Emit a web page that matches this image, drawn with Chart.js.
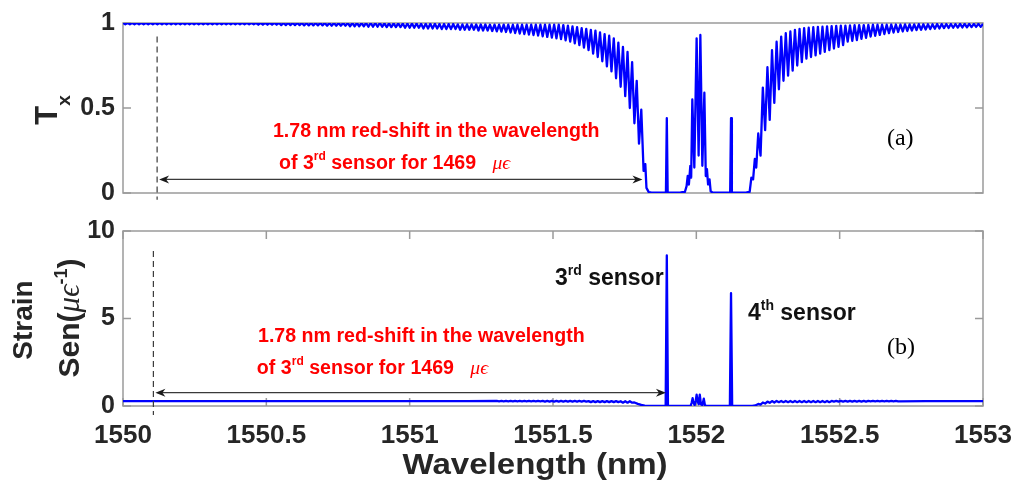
<!DOCTYPE html>
<html>
<head>
<meta charset="utf-8">
<script src="https://cdn.jsdelivr.net/npm/chart.js@4.4.1/dist/chart.umd.min.js"></script>
<style>
body{margin:0;background:#fff;}
#wrap{position:relative;width:1016px;height:485px;}
#wrap canvas{position:absolute;left:0;top:0;}
</style>
</head>
<body>
<div id="wrap">
<canvas id="txChart" width="1016" height="485"></canvas>
<canvas id="senChart" width="1016" height="485"></canvas>
</div>
<script>
const SANS = "'Liberation Sans', Arial, sans-serif";
const SERIF = "'Liberation Serif', 'Times New Roman', serif";
const INK = '#262626';
const BOX = '#9a9a9a';

// axis ticks
const xTicks = [1550, 1550.5, 1551, 1551.5, 1552, 1552.5, 1553];
const txTicks = [0, 0.5, 1];
const senTicks = [0, 5, 10];

// transmission, blue side of the stop band (fringe peaks / troughs)
const txLeftWl = [
1550,1550.008,1550.016,1550.024,1550.032,1550.04,1550.048,1550.056,1550.064,1550.072,1550.08,1550.088,1550.096,1550.104,1550.112,1550.12,1550.128,1550.136,1550.144,1550.152,1550.16,1550.168,1550.176,1550.184,1550.192,
1550.2,1550.208,1550.216,1550.224,1550.232,1550.24,1550.248,1550.256,1550.264,1550.272,1550.28,1550.288,1550.296,1550.304,1550.312,1550.32,1550.328,1550.336,1550.344,1550.352,1550.36,1550.368,1550.376,1550.384,1550.392,
1550.4,1550.408,1550.416,1550.424,1550.432,1550.44,1550.448,1550.456,1550.464,1550.472,1550.48,1550.488,1550.496,1550.504,1550.512,1550.52,1550.528,1550.536,1550.544,1550.552,1550.56,1550.568,1550.576,1550.584,1550.592,
1550.6,1550.608,1550.616,1550.624,1550.632,1550.64,1550.648,1550.656,1550.664,1550.672,1550.68,1550.688,1550.696,1550.704,1550.712,1550.72,1550.728,1550.736,1550.744,1550.752,1550.76,1550.768,1550.776,1550.784,1550.792,
1550.8,1550.808,1550.816,1550.824,1550.832,1550.84,1550.848,1550.856,1550.864,1550.872,1550.88,1550.888,1550.896,1550.904,1550.912,1550.92,1550.928,1550.936,1550.944,1550.952,1550.96,1550.968,1550.976,1550.984,1550.992,
1551,1551.008,1551.016,1551.024,1551.032,1551.04,1551.048,1551.056,1551.064,1551.072,1551.08,1551.088,1551.096,1551.104,1551.112,1551.12,1551.128,1551.136,1551.144,1551.152,1551.16,1551.168,1551.176,1551.184,1551.192,
1551.2,1551.208,1551.216,1551.224,1551.232,1551.24,1551.248,1551.256,1551.264,1551.272,1551.28,1551.288,1551.296,1551.304,1551.312,1551.32,1551.328,1551.336,1551.344,1551.352,1551.36,1551.368,1551.376,1551.384,1551.392,
1551.4,1551.408,1551.416,1551.424,1551.432,1551.44,1551.448,1551.456,1551.464,1551.472,1551.48,1551.488,1551.496,1551.504,1551.512,1551.52,1551.528,1551.536,1551.544,1551.552,1551.56,1551.568,1551.576,1551.584,1551.592,
1551.6,1551.608,1551.616,1551.624,1551.632,1551.64,1551.648,1551.656,1551.664,1551.672,1551.68,1551.688,1551.696,1551.704,1551.712,1551.72,1551.728,1551.736,1551.744,1551.752,1551.76,1551.768,1551.776,1551.784,1551.792,
1551.8,1551.808,1551.816,1551.822,1551.826,1551.834
];
const txLeft = [
1,.992,1,.992,1,.992,1,.992,1,.992,1,.992,1,.992,1,.992,1,.992,1,.992,1,.992,1,.992,1,
.992,1,.992,1,.992,1,.992,1,.992,1,.992,1,.992,1,.992,1,.992,1,.992,1,.992,1,.992,1,.992,
1,.992,1,.992,1,.992,1,.992,1,.99,1,.99,1,.99,1,.99,1,.99,1,.988,1,.988,1,.988,1,
.988,1,.988,1,.986,1,.986,1,.986,1,.986,1,.986,1,.984,1,.984,1,.984,1,.984,1,.984,1,.981,
1,.981,1,.981,1,.981,1,.978,1,.978,1,.978,1,.978,.998,.976,.998,.976,.998,.976,.998,.976,.997,.972,.997,
.972,.997,.972,.997,.972,.995,.968,.995,.968,.995,.968,.995,.968,.994,.964,.994,.964,.994,.964,.994,.964,.992,.96,.992,.96,
.992,.96,.992,.96,.991,.956,.991,.956,.991,.956,.99,.953,.99,.951,.99,.949,.99,.947,.99,.944,.99,.941,.99,.938,.99,
.935,.99,.932,.99,.929,.99,.926,.99,.922,.99,.918,.99,.914,.99,.91,.99,.905,.988,.898,.984,.89,.98,.88,.975,.87,
.97,.855,.965,.84,.96,.82,.955,.8,.945,.775,.935,.745,.925,.715,.91,.675,.885,.625,.86,.57,.83,.5,.77,.41,.66,
.29,.49,.13,.17,.03,.005
];

// transmission inside the stop band: sensor 3 peak, central cluster, sensor 4 peak
const txDipWl = [
1551.842,1551.86,1551.88,1551.894,1551.897,1551.9,1551.92,1551.945,1551.96,1551.966,1551.97,1551.974,1551.979,
1551.982,1551.986,1551.993,1552.001,1552.008,1552.014,1552.021,1552.028,1552.033,1552.037,1552.041,1552.046,
1552.05,1552.056,1552.08,1552.1,1552.118,1552.121,1552.124,1552.15,1552.175,1552.186,1552.192,1552.198,1552.204,1552.209
];
const txDip = [
.003,.002,.002,.003,.44,.003,.002,.003,.006,.04,.1,.05,.16,
.09,.55,.15,.91,.22,.93,.16,.59,.1,.14,.05,.08,
.01,.003,.002,.002,.003,.44,.003,.002,.003,.006,.09,.08,.2,.15
];

// transmission, red side of the stop band
const txRightWl = [
1552.216,1552.224,1552.232,1552.24,1552.248,1552.256,1552.264,1552.272,1552.28,1552.288,1552.296,1552.304,1552.312,1552.32,1552.328,1552.336,1552.344,1552.352,1552.36,1552.368,1552.376,1552.384,1552.392,
1552.4,1552.408,1552.416,1552.424,1552.432,1552.44,1552.448,1552.456,1552.464,1552.472,1552.48,1552.488,1552.496,1552.504,1552.512,1552.52,1552.528,1552.536,1552.544,1552.552,1552.56,1552.568,1552.576,1552.584,1552.592,
1552.6,1552.608,1552.616,1552.624,1552.632,1552.64,1552.648,1552.656,1552.664,1552.672,1552.68,1552.688,1552.696,1552.704,1552.712,1552.72,1552.728,1552.736,1552.744,1552.752,1552.76,1552.768,1552.776,1552.784,1552.792,
1552.8,1552.808,1552.816,1552.824,1552.832,1552.84,1552.848,1552.856,1552.864,1552.872,1552.88,1552.888,1552.896,1552.904,1552.912,1552.92,1552.928,1552.936,1552.944,1552.952,1552.96,1552.968,1552.976,1552.984,1552.992,
1553
];
const txRight = [
.35,.22,.62,.37,.74,.43,.84,.53,.89,.61,.92,.66,.94,.69,.95,.72,.96,.75,.965,.77,.97,.79,.972,
.8,.975,.81,.977,.82,.978,.83,.98,.84,.982,.85,.983,.86,.984,.87,.985,.89,.986,.895,.987,.9,.988,.907,.988,.913,
.989,.92,.99,.925,.99,.93,.99,.935,.99,.94,.991,.944,.991,.947,.991,.95,.992,.953,.992,.956,.992,.958,.993,.96,.993,
.962,.993,.964,.993,.966,.994,.968,.994,.97,.994,.971,.994,.972,.994,.973,.995,.974,.995,.975,.995,.976,.995,.977,.995,.978,
.995
];

// strain sensitivity
const senLeftWl = [
1550,1550.5,1551,1551.2,
1551.304,1551.312,1551.32,1551.328,1551.336,1551.344,1551.352,1551.36,1551.368,1551.376,1551.384,1551.392,
1551.4,1551.408,1551.416,1551.424,1551.432,1551.44,1551.448,1551.456,1551.464,1551.472,1551.48,1551.488,1551.496,1551.504,1551.512,1551.52,1551.528,1551.536,1551.544,1551.552,1551.56,1551.568,1551.576,1551.584,1551.592,
1551.6,1551.608,1551.616,1551.624,1551.632,1551.64,1551.648,1551.656,1551.664,1551.672,1551.68,1551.688,1551.696,1551.704,1551.712,1551.72,1551.728,1551.736,1551.744,1551.752,1551.76,1551.768,1551.776,
1551.784,1551.796,1551.808,1551.82,1551.832
];
const senLeft = [
.28,.28,.28,.28,
.29,.27,.29,.27,.29,.27,.29,.27,.29,.27,.29,.27,
.29,.27,.29,.27,.29,.27,.29,.27,.29,.25,.29,.25,.29,.25,.29,.25,.29,.25,.29,.25,.29,.25,.29,.25,.29,
.25,.29,.25,.28,.22,.28,.22,.28,.22,.28,.22,.28,.22,.28,.22,.28,.22,.27,.19,.27,.19,.27,.19,
.2,.12,.06,.02,.004
];
const senMidWl = [
1551.86,1551.893,1551.897,1551.901,1551.94,1551.98,1551.984,1551.987,1551.99,1551.994,1551.998,1552.001,1552.004,1552.008,
1552.012,1552.016,1552.021,1552.026,1552.03,1552.035,1552.08,1552.117,1552.121,1552.125,1552.17,1552.195,1552.206
];
const senMid = [
.003,.003,8.6,.003,.003,.005,.2,.45,.2,.05,.3,.65,.3,.1,
.65,.1,.05,.42,.05,.005,.003,.003,6.45,.003,.003,.005,.03
];
const senRightWl = [
1552.216,1552.224,1552.232,1552.24,1552.248,1552.256,1552.264,1552.272,1552.28,1552.288,1552.296,1552.304,1552.312,1552.32,1552.328,1552.336,1552.344,1552.352,1552.36,1552.368,1552.376,1552.384,1552.392,
1552.4,1552.408,1552.416,1552.424,1552.432,1552.44,1552.448,1552.456,1552.464,1552.472,1552.48,1552.488,1552.496,1552.504,1552.512,1552.52,1552.528,1552.536,1552.544,1552.552,1552.56,1552.568,1552.576,1552.584,1552.592,
1552.6,1552.608,1552.616,1552.624,1552.632,1552.64,1552.648,1552.656,1552.664,1552.672,1552.68,1552.688,1552.696,1552.704,
1552.8,1553
];
const senRight = [
.12,.08,.2,.14,.25,.18,.28,.2,.29,.22,.29,.22,.29,.22,.29,.22,.29,.22,.29,.22,.29,.22,.29,
.22,.29,.22,.29,.22,.29,.22,.29,.22,.29,.25,.29,.25,.29,.25,.29,.25,.29,.25,.29,.25,.29,.25,.29,.25,
.29,.27,.29,.27,.29,.27,.29,.27,.29,.27,.29,.27,.29,.27,
.28,.28
];

function toPoints(wl, vals) {
  return wl.map((w, i) => ({ x: w, y: vals[i] }));
}

// text made of runs with their own font and vertical shift
function richWidth(ctx, parts) {
  let w = 0;
  parts.forEach(p => { ctx.font = p.f; w += ctx.measureText(p.t).width; });
  return w;
}
function rich(ctx, parts, x, y) {
  let cx = x;
  parts.forEach(p => {
    ctx.font = p.f;
    ctx.fillText(p.t, cx, y - (p.dy || 0));
    cx += ctx.measureText(p.t).width;
  });
}
function vertRich(ctx, parts, cx, cy, base) {
  ctx.save();
  ctx.translate(cx, cy);
  ctx.rotate(-Math.PI / 2);
  const w = richWidth(ctx, parts);
  rich(ctx, parts, -w / 2, base);
  ctx.restore();
}

function arrowHead(ctx, x, y, dir) {
  ctx.beginPath();
  ctx.moveTo(x, y);
  ctx.lineTo(x - dir * 10, y - 4);
  ctx.lineTo(x - dir * 7, y);
  ctx.lineTo(x - dir * 10, y + 4);
  ctx.closePath();
  ctx.fill();
}

function drawMarkers(chart, n) {
  const { ctx, scales: { x, y } } = chart;
  ctx.save();
  // dashed reference line at the unstrained wavelength
  ctx.strokeStyle = '#3a3a3a';
  ctx.lineWidth = 1.2;
  ctx.setLineDash([6, 4]);
  const dx = x.getPixelForValue(n.dashX);
  ctx.beginPath();
  ctx.moveTo(dx, y.getPixelForValue(n.dashTop));
  ctx.lineTo(dx, y.getPixelForValue(n.dashBottom));
  ctx.stroke();
  ctx.setLineDash([]);
  // double-headed shift arrow
  const ay = y.getPixelForValue(n.arrowY);
  const a0 = x.getPixelForValue(n.arrowFrom), a1 = x.getPixelForValue(n.arrowTo);
  ctx.beginPath();
  ctx.moveTo(a0 + 6, ay);
  ctx.lineTo(a1 - 6, ay);
  ctx.stroke();
  ctx.fillStyle = '#1a1a1a';
  arrowHead(ctx, a0, ay, -1);
  arrowHead(ctx, a1, ay, 1);
  // red note
  const s = n.size;
  const b = `bold ${s}px ${SANS}`;
  ctx.fillStyle = '#ff0000';
  ctx.textBaseline = 'alphabetic';
  rich(ctx, [{ t: '1.78 nm red-shift in the wavelength', f: b }],
    x.getPixelForValue(n.line1[0]), y.getPixelForValue(n.line1[1]));
  rich(ctx, [
    { t: 'of 3', f: b },
    { t: 'rd', f: `bold ${Math.round(s * 0.62)}px ${SANS}`, dy: s * 0.45 },
    { t: ' sensor for 1469   ', f: b },
    { t: 'μϵ', f: `italic ${s}px ${SERIF}` }
  ], x.getPixelForValue(n.line2[0]), y.getPixelForValue(n.line2[1]));
  // panel tag
  ctx.fillStyle = '#000';
  ctx.font = `24px ${SERIF}`;
  ctx.fillText(n.tag, x.getPixelForValue(n.tagAt[0]), y.getPixelForValue(n.tagAt[1]));
  ctx.restore();
}

// box and inward tick marks drawn under the data line
const frame = {
  id: 'frame',
  beforeDatasetsDraw(chart, args, opts) {
    const { ctx, chartArea: a, scales: { x, y } } = chart;
    ctx.save();
    ctx.strokeStyle = BOX;
    ctx.lineWidth = 1.5;
    ctx.strokeRect(a.left, a.top, a.right - a.left, a.bottom - a.top);
    ctx.beginPath();
    y.ticks.forEach(t => {
      const p = y.getPixelForValue(t.value);
      ctx.moveTo(a.left, p); ctx.lineTo(a.left + 8, p);
      ctx.moveTo(a.right, p); ctx.lineTo(a.right - 8, p);
    });
    if (opts.xTicks) {
      x.ticks.forEach(t => {
        const p = x.getPixelForValue(t.value);
        ctx.moveTo(p, a.bottom); ctx.lineTo(p, a.bottom - 8);
        ctx.moveTo(p, a.top); ctx.lineTo(p, a.top + 8);
      });
    }
    ctx.stroke();
    ctx.restore();
  }
};

const lineStyle = {
  borderColor: '#0000ff', borderWidth: 2.3, borderJoinStyle: 'round',
  pointRadius: 0, tension: 0, fill: false
};

function yAxis(ticks) {
  return {
    type: 'linear', min: ticks[0], max: ticks[ticks.length - 1],
    afterFit(s) { s.width = 123; s.paddingTop = 0; s.paddingBottom = 0; },
    afterBuildTicks(s) { s.ticks = ticks.map(v => ({ value: v })); },
    grid: { display: false, drawTicks: false },
    border: { display: false },
    ticks: { padding: 8, color: INK, font: { family: SANS, weight: 'bold', size: 25 }, callback: v => String(v) }
  };
}

// (a) transmission
new Chart(document.getElementById('txChart'), {
  type: 'line',
  data: { datasets: [Object.assign({
    data: toPoints(txLeftWl.concat(txDipWl, txRightWl), txLeft.concat(txDip, txRight))
  }, lineStyle)] },
  options: {
    responsive: false, animation: false, devicePixelRatio: 1,
    layout: { padding: { top: 23, right: 33, bottom: 292, left: 0 } },
    plugins: { legend: { display: false }, tooltip: { enabled: false }, frame: { xTicks: false } },
    scales: {
      x: { type: 'linear', min: 1550, max: 1553, display: false },
      y: yAxis(txTicks)
    }
  },
  plugins: [frame, {
    id: 'txNotes',
    afterDraw(chart) {
      drawMarkers(chart, {
        dashX: 1550.119, dashTop: 0.92, dashBottom: -0.04,
        arrowY: 0.08, arrowFrom: 1550.126, arrowTo: 1551.812,
        size: 19.6, line1: [1550.523, 0.33], line2: [1550.544, 0.142],
        tag: '(a)', tagAt: [1552.665, 0.28]
      });
      const ctx = chart.ctx;
      ctx.save();
      ctx.fillStyle = INK;
      vertRich(ctx, [
        { t: 'T', f: `bold 31px ${SANS}` },
        { t: 'x', f: `bold 19px ${SANS}`, dy: -13 }
      ], 46, 110, 11);
      ctx.restore();
    }
  }]
});

// (b) strain sensitivity
new Chart(document.getElementById('senChart'), {
  type: 'line',
  data: { datasets: [Object.assign({
    data: toPoints(senLeftWl.concat(senMidWl, senRightWl), senLeft.concat(senMid, senRight))
  }, lineStyle)] },
  options: {
    responsive: false, animation: false, devicePixelRatio: 1,
    layout: { padding: { top: 231, right: 33, bottom: 0, left: 0 } },
    plugins: { legend: { display: false }, tooltip: { enabled: false }, frame: { xTicks: true } },
    scales: {
      x: {
        type: 'linear', min: 1550, max: 1553,
        afterFit(s) { s.height = 79; s.paddingLeft = 0; s.paddingRight = 0; },
        afterBuildTicks(s) { s.ticks = xTicks.map(v => ({ value: v })); },
        grid: { display: false, drawTicks: false },
        border: { display: false },
        ticks: { padding: 14, autoSkip: false, maxRotation: 0, color: INK, font: { family: SANS, weight: 'bold', size: 26 }, callback: v => String(v) }
      },
      y: yAxis(senTicks)
    }
  },
  plugins: [frame, {
    id: 'senNotes',
    afterDraw(chart) {
      drawMarkers(chart, {
        dashX: 1550.106, dashTop: 8.86, dashBottom: -0.52,
        arrowY: 0.76, arrowFrom: 1550.113, arrowTo: 1551.894,
        size: 19.6, line1: [1550.471, 3.66], line2: [1550.467, 1.83],
        tag: '(b)', tagAt: [1552.665, 2.97]
      });
      const { ctx, scales: { x, y } } = chart;
      ctx.save();
      ctx.fillStyle = '#111';
      const b = `bold 23px ${SANS}`, s = `bold 14px ${SANS}`;
      rich(ctx, [{ t: '3', f: b }, { t: 'rd', f: s, dy: 10 }, { t: ' sensor', f: b }],
        x.getPixelForValue(1551.507), y.getPixelForValue(6.9));
      rich(ctx, [{ t: '4', f: b }, { t: 'th', f: s, dy: 10 }, { t: ' sensor', f: b }],
        x.getPixelForValue(1552.18), y.getPixelForValue(4.9));
      // axis titles
      ctx.fillStyle = INK;
      ctx.save();
      ctx.translate(535, 474);
      ctx.scale(1.14, 1);
      ctx.font = `bold 29px ${SANS}`;
      ctx.textAlign = 'center';
      ctx.fillText('Wavelength (nm)', 0, 0);
      ctx.restore();
      vertRich(ctx, [{ t: 'Strain', f: `bold 28px ${SANS}` }], 22, 320, 10);
      vertRich(ctx, [
        { t: 'Sen(', f: `bold 30px ${SANS}` },
        { t: 'μϵ', f: `italic 31px ${SERIF}` },
        { t: '-1', f: `bold 18px ${SANS}`, dy: 12 },
        { t: ')', f: `bold 30px ${SANS}` }
      ], 68, 318, 11);
      ctx.restore();
    }
  }]
});
</script>
</body>
</html>
